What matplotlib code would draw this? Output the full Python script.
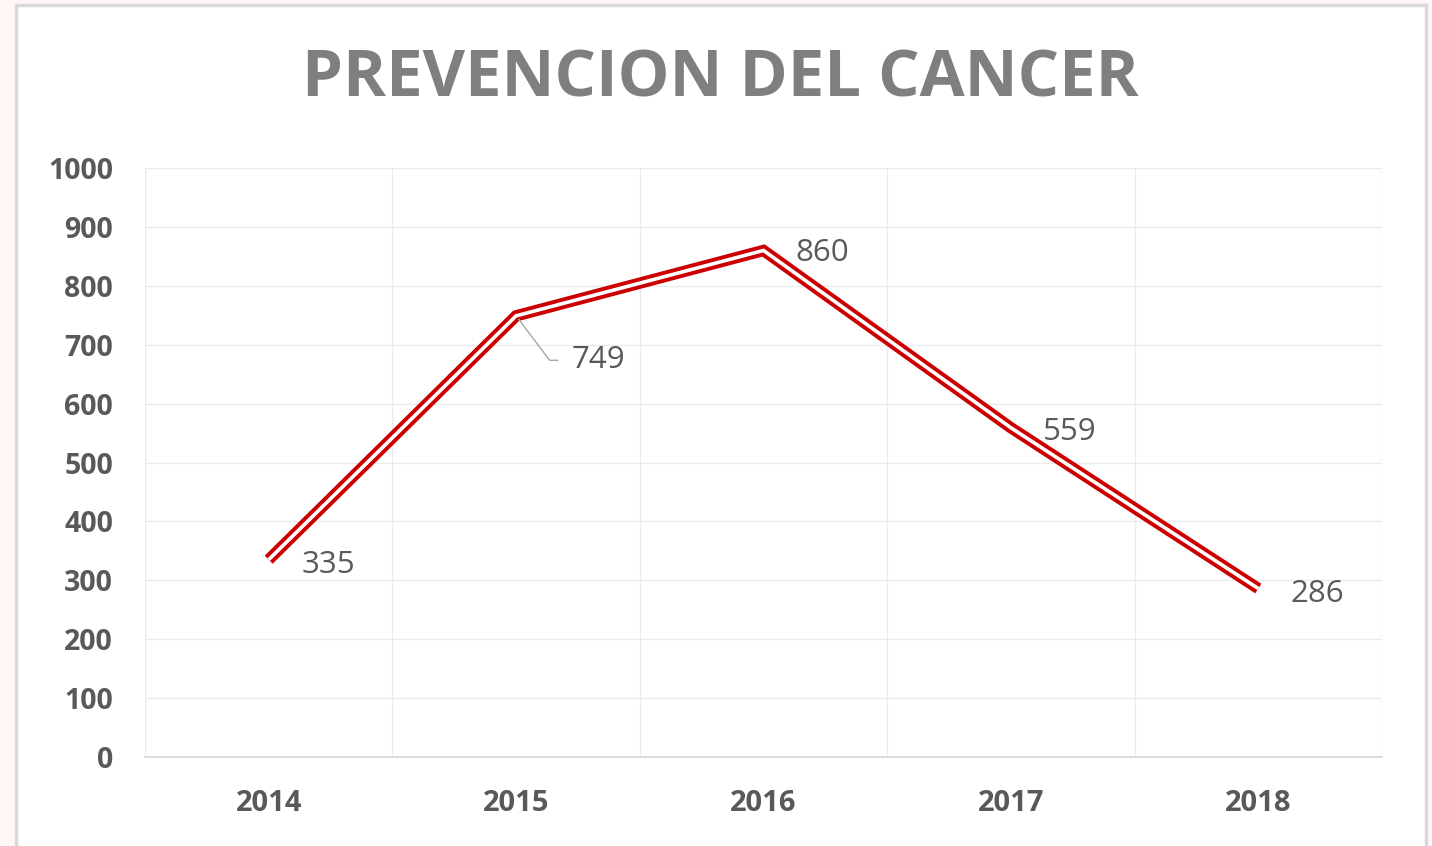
import matplotlib.pyplot as plt
from matplotlib.patches import Rectangle

years = ["2014", "2015", "2016", "2017", "2018"]
values = [335, 749, 860, 559, 286]
yticks = list(range(0, 1001, 100))

# label offsets in points (right of the point, 749 pushed down with a leader)
offsets = [(24, -4), (40, -32), (23, -2), (23, -3), (23, -4)]

plt.rcParams['font.family'] = ['Open Sans', 'DejaVu Sans']

fig = plt.figure(figsize=(14.32, 8.46), dpi=100)
fig.patch.set_facecolor('#FFF7F6')
# white chart area with gray border
fig.patches.append(Rectangle((16 / 1432, -0.01), 1410 / 1432, 1 - 4.5 / 846 + 0.01,
                             transform=fig.transFigure, facecolor='white',
                             edgecolor='#D9D9D9', linewidth=2.5, zorder=-5))

ax = fig.add_axes([145 / 1432, 1 - 757 / 846, 1237 / 1432, 589 / 846])
ax.set_facecolor('white')

x = list(range(len(years)))
ax.plot(x, values, color='#CC0000', linewidth=8.2, solid_joinstyle='miter',
        solid_capstyle='butt', zorder=3)
ax.plot(x, values, color='white', linewidth=2.6, solid_joinstyle='miter',
        solid_capstyle='butt', zorder=4)

for i, v in enumerate(values):
    dx, dy = offsets[i]
    if i == 1:
        ax.annotate(str(v), (i, v), xytext=(dx, dy), textcoords='offset points',
                    ha='left', va='center', fontsize=22.5, color='#595959', zorder=5,
                    arrowprops=dict(arrowstyle='-', color='#A6A6A6', lw=1,
                                    relpos=(0, 0.5), shrinkA=8, shrinkB=3,
                                    connectionstyle='angle,angleA=0,angleB=-53,rad=0'))
    else:
        ax.annotate(str(v), (i, v), xytext=(dx, dy), textcoords='offset points',
                    ha='left', va='center', fontsize=22.5, color='#595959', zorder=5)

ax.set_xlim(-0.5, len(years) - 0.5)
ax.set_ylim(0, 1000)
ax.set_yticks(yticks)
ax.set_xticks(x)
ax.set_xticklabels(years)
ax.set_xticks([i - 0.5 for i in range(len(years) + 1)], minor=True)
ax.grid(True, which='major', axis='y', color='#EBEBEB', linewidth=1, zorder=0)
ax.grid(True, which='minor', axis='x', color='#EBEBEB', linewidth=1, zorder=0)
ax.tick_params(axis='both', which='both', length=0)
ax.tick_params(axis='y', pad=23, labelsize=20.5, labelcolor='#595959')
ax.tick_params(axis='x', pad=23, labelsize=21, labelcolor='#595959')
for lab in ax.get_xticklabels() + ax.get_yticklabels():
    lab.set_fontweight('bold')

for side in ['top', 'right', 'left']:
    ax.spines[side].set_visible(False)
ax.spines['bottom'].set_color('#D9D9D9')
ax.spines['bottom'].set_linewidth(1.3)

fig.text(720 / 1432, 1 - 80 / 846, "PREVENCION DEL CANCER", ha='center', va='center',
         fontsize=47, fontweight='bold', color='#7F7F7F')

fig.savefig('out.png', dpi=100, facecolor=fig.get_facecolor())
